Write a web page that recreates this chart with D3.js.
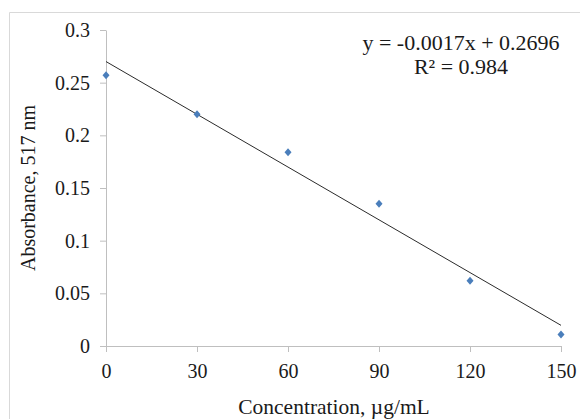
<!DOCTYPE html>
<html>
<head>
<meta charset="utf-8">
<script src="https://cdn.jsdelivr.net/npm/d3@7"></script>
<style>
  body { margin: 0; background: #fff; }
  text { font-family: "Liberation Serif", "Times New Roman", serif; fill: #1a1a1a; }
</style>
</head>
<body>
<div id="chart"></div>
<script>
// values
const concentrations = [0, 30, 60, 90, 120, 150];
const absorbance = [0.257, 0.22, 0.184, 0.135, 0.062, 0.011];
const xTicks = [0, 30, 60, 90, 120, 150];
const yTicks = [0, 0.05, 0.1, 0.15, 0.2, 0.25, 0.3];
const equationLines = ["y = -0.0017x + 0.2696", "R² = 0.984"];

const width = 580, height = 419;
const serif = "'Liberation Serif', 'Times New Roman', serif";
const svg = d3.select("#chart")
    .append("svg")
    .attr("width", width)
    .attr("height", height);

// chart area frame (only top and left edges show)
svg.append("path")
    .attr("d", "M9.5,419V12.5H580")
    .attr("fill", "none")
    .attr("stroke", "#d9d9d9");

const x = d3.scaleLinear().domain([0, 150]).range([106, 561]);
const y = d3.scaleLinear().domain([0, 0.3]).range([346, 30]);

const yAxis = svg.append("g")
    .attr("transform", `translate(${x(0)},0)`)
    .call(d3.axisLeft(y).tickValues(yTicks).tickSize(6).tickSizeOuter(0).tickPadding(10)
        .tickFormat(d => d3.format("")(+d.toFixed(2))));

const xAxis = svg.append("g")
    .attr("transform", `translate(0,${y(0)})`)
    .call(d3.axisBottom(x).tickValues(xTicks).tickSize(6).tickSizeOuter(0).tickPadding(12));

[xAxis, yAxis].forEach(g => {
    g.attr("font-family", serif).attr("font-size", 20);
    g.select(".domain").attr("stroke", "#bfbfbf");
    g.selectAll(".tick line").attr("stroke", "#bfbfbf");
    g.selectAll(".tick text").attr("fill", "#1a1a1a");
});

// least squares trend line
const mx = d3.mean(concentrations), my = d3.mean(absorbance);
let sxy = 0, sxx = 0;
concentrations.forEach((c, i) => {
    sxy += (c - mx) * (absorbance[i] - my);
    sxx += (c - mx) * (c - mx);
});
const slope = sxy / sxx, icpt = my - slope * mx;
const ends = [0, 150];

svg.append("path")
    .datum(ends)
    .attr("fill", "none")
    .attr("stroke", "#2b2b2b")
    .attr("stroke-width", 1)
    .attr("d", d3.line()
        .x(d => x(d))
        .y(d => y(icpt + slope * d)));

svg.selectAll(".pt")
    .data(concentrations)
    .enter().append("path")
    .attr("class", "pt")
    .attr("transform", (d, i) => `translate(${x(d)},${y(absorbance[i])})`)
    .attr("d", "M0,-4L3.5,0L0,4L-3.5,0Z")
    .attr("fill", "#4a7ebb");

svg.selectAll(".eq")
    .data(equationLines)
    .enter().append("text")
    .attr("class", "eq")
    .attr("x", 461)
    .attr("y", (d, i) => 50 + i * 24)
    .attr("text-anchor", "middle")
    .style("font-size", "22px")
    .text(d => d);

svg.append("text")
    .attr("transform", "translate(35,188) rotate(-90)")
    .attr("text-anchor", "middle")
    .style("font-size", "20px")
    .text("Absorbance, 517 nm");

svg.append("text")
    .attr("x", 334)
    .attr("y", 414)
    .attr("text-anchor", "middle")
    .style("font-size", "21.5px")
    .text("Concentration, µg/mL");
</script>
</body>
</html>
